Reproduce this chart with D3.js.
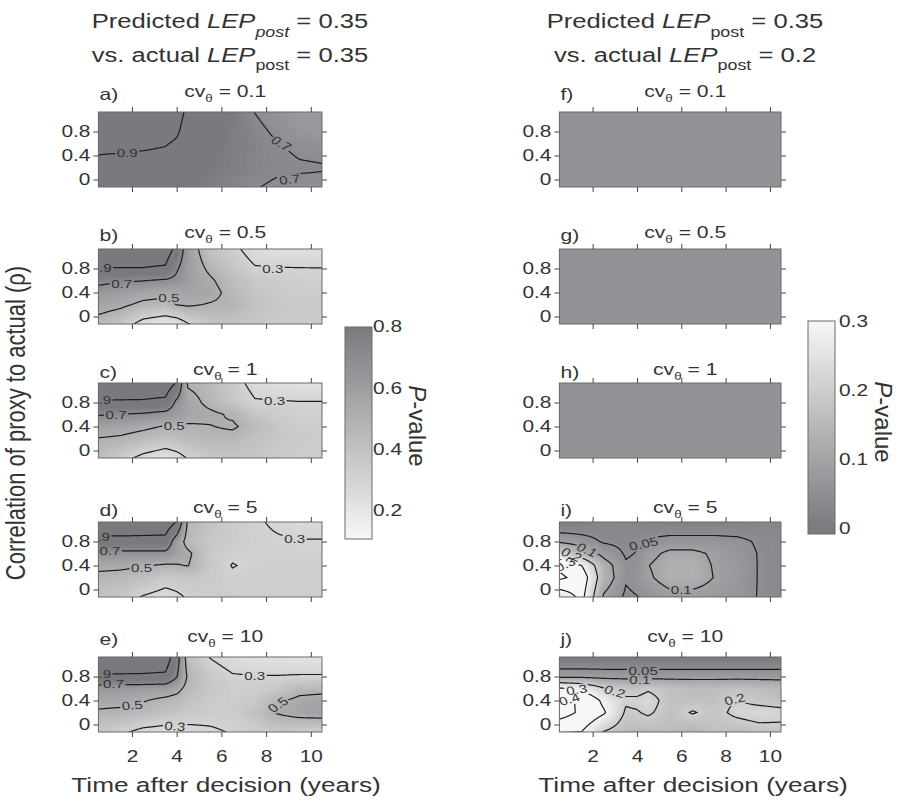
<!DOCTYPE html>
<html>
<head>
<meta charset="utf-8">
<script src="https://cdn.jsdelivr.net/npm/d3@7"></script>
<style>
  body { margin: 0; background: #fff; }
  svg text { font-family: "Liberation Sans", Arial, Helvetica, sans-serif; fill: #333; }
</style>
</head>
<body>
<svg width="901" height="803"></svg>
<script>
var years = [0.5, 1.5, 2.5, 3.5, 4, 4.5, 5.5, 6.5, 7.5, 8.5, 9.5, 10.5];
var rho = [1.0, 0.8, 0.6, 0.4, 0.2, 0];

var gridA = [
  [0.95, 0.95, 0.95, 0.94, 0.92, 0.88, 0.84, 0.79, 0.71, 0.66, 0.63, 0.62],
  [0.94, 0.94, 0.94, 0.93, 0.91, 0.87, 0.83, 0.78, 0.73, 0.68, 0.64, 0.62],
  [0.92, 0.92, 0.915, 0.905, 0.89, 0.86, 0.82, 0.78, 0.745, 0.705, 0.68, 0.66],
  [0.899, 0.895, 0.89, 0.885, 0.87, 0.85, 0.81, 0.77, 0.74, 0.715, 0.695, 0.69],
  [0.87, 0.87, 0.87, 0.86, 0.85, 0.83, 0.8, 0.77, 0.74, 0.72, 0.71, 0.705],
  [0.85, 0.85, 0.85, 0.84, 0.83, 0.81, 0.78, 0.75, 0.72, 0.695, 0.69, 0.69]
];
var gridB = [
  [0.97, 0.97, 0.96, 0.95, 0.8, 0.6, 0.42, 0.35, 0.27, 0.26, 0.26, 0.26],
  [0.895, 0.895, 0.895, 0.88, 0.72, 0.6, 0.47, 0.38, 0.31, 0.305, 0.303, 0.302],
  [0.74, 0.72, 0.705, 0.68, 0.66, 0.6, 0.52, 0.42, 0.36, 0.34, 0.33, 0.32],
  [0.64, 0.6, 0.56, 0.54, 0.55, 0.56, 0.55, 0.45, 0.38, 0.35, 0.34, 0.34],
  [0.56, 0.53, 0.47, 0.45, 0.505, 0.52, 0.49, 0.47, 0.4, 0.37, 0.36, 0.36],
  [0.49, 0.44, 0.33, 0.29, 0.32, 0.38, 0.42, 0.42, 0.38, 0.36, 0.35, 0.35]
];
var gridC = [
  [0.97, 0.97, 0.96, 0.95, 0.8, 0.51, 0.45, 0.36, 0.28, 0.26, 0.25, 0.25],
  [0.88, 0.88, 0.88, 0.86, 0.66, 0.56, 0.46, 0.38, 0.31, 0.31, 0.305, 0.305],
  [0.71, 0.695, 0.68, 0.64, 0.6, 0.56, 0.53, 0.48, 0.38, 0.34, 0.32, 0.32],
  [0.58, 0.56, 0.53, 0.49, 0.49, 0.48, 0.495, 0.52, 0.44, 0.37, 0.34, 0.33],
  [0.495, 0.48, 0.44, 0.4, 0.42, 0.44, 0.46, 0.45, 0.4, 0.37, 0.35, 0.34],
  [0.45, 0.4, 0.33, 0.28, 0.31, 0.36, 0.4, 0.41, 0.38, 0.36, 0.34, 0.34]
];
var gridD = [
  [0.97, 0.97, 0.96, 0.95, 0.78, 0.46, 0.38, 0.34, 0.315, 0.295, 0.28, 0.28],
  [0.84, 0.84, 0.84, 0.84, 0.6, 0.44, 0.37, 0.34, 0.32, 0.31, 0.305, 0.305],
  [0.66, 0.66, 0.66, 0.66, 0.58, 0.53, 0.36, 0.32, 0.32, 0.32, 0.315, 0.315],
  [0.54, 0.53, 0.51, 0.48, 0.49, 0.505, 0.36, 0.295, 0.32, 0.33, 0.33, 0.33],
  [0.46, 0.45, 0.42, 0.36, 0.37, 0.38, 0.35, 0.32, 0.33, 0.33, 0.33, 0.33],
  [0.42, 0.4, 0.34, 0.29, 0.31, 0.34, 0.34, 0.33, 0.33, 0.33, 0.33, 0.33]
];
var gridE = [
  [0.97, 0.97, 0.96, 0.95, 0.76, 0.44, 0.32, 0.27, 0.25, 0.25, 0.25, 0.25],
  [0.88, 0.88, 0.88, 0.87, 0.71, 0.48, 0.36, 0.31, 0.305, 0.305, 0.31, 0.31],
  [0.62, 0.62, 0.61, 0.6, 0.55, 0.45, 0.37, 0.33, 0.33, 0.36, 0.44, 0.45],
  [0.55, 0.54, 0.51, 0.46, 0.44, 0.4, 0.35, 0.33, 0.36, 0.47, 0.54, 0.56],
  [0.48, 0.47, 0.44, 0.4, 0.38, 0.36, 0.34, 0.34, 0.4, 0.51, 0.56, 0.57],
  [0.41, 0.38, 0.33, 0.305, 0.3, 0.3, 0.305, 0.32, 0.36, 0.42, 0.42, 0.42]
];
// f), g) and h) look the same flat grey
var gridFGH = [
  [0.057, 0.057, 0.057, 0.057, 0.057, 0.057, 0.057, 0.057, 0.057, 0.057, 0.057, 0.057],
  [0.057, 0.057, 0.057, 0.057, 0.057, 0.057, 0.057, 0.057, 0.057, 0.057, 0.057, 0.057],
  [0.057, 0.057, 0.057, 0.057, 0.057, 0.057, 0.057, 0.057, 0.057, 0.057, 0.057, 0.057],
  [0.057, 0.057, 0.057, 0.057, 0.057, 0.057, 0.057, 0.057, 0.057, 0.057, 0.057, 0.057],
  [0.057, 0.057, 0.057, 0.057, 0.057, 0.057, 0.057, 0.057, 0.057, 0.057, 0.057, 0.057],
  [0.057, 0.057, 0.057, 0.057, 0.057, 0.057, 0.057, 0.057, 0.057, 0.057, 0.057, 0.057]
];
var gridI = [
  [0.035, 0.035, 0.035, 0.035, 0.035, 0.035, 0.035, 0.035, 0.035, 0.035, 0.035, 0.035],
  [0.09, 0.07, 0.045, 0.04, 0.045, 0.055, 0.065, 0.065, 0.065, 0.06, 0.045, 0.04],
  [0.22, 0.14, 0.08, 0.045, 0.052, 0.08, 0.115, 0.115, 0.09, 0.07, 0.048, 0.04],
  [0.38, 0.3, 0.13, 0.055, 0.06, 0.098, 0.13, 0.13, 0.095, 0.075, 0.048, 0.04],
  [0.42, 0.36, 0.14, 0.055, 0.065, 0.09, 0.13, 0.13, 0.098, 0.075, 0.048, 0.04],
  [0.3, 0.34, 0.11, 0.047, 0.055, 0.07, 0.1, 0.1, 0.085, 0.07, 0.048, 0.04]
];
var gridJ = [
  [0.03, 0.03, 0.03, 0.03, 0.03, 0.03, 0.03, 0.03, 0.03, 0.03, 0.03, 0.03],
  [0.085, 0.085, 0.08, 0.08, 0.08, 0.08, 0.08, 0.08, 0.08, 0.08, 0.08, 0.08],
  [0.31, 0.28, 0.205, 0.18, 0.17, 0.19, 0.17, 0.16, 0.16, 0.17, 0.16, 0.15],
  [0.42, 0.39, 0.28, 0.21, 0.215, 0.23, 0.17, 0.17, 0.17, 0.205, 0.18, 0.17],
  [0.45, 0.38, 0.31, 0.19, 0.195, 0.21, 0.17, 0.205, 0.18, 0.215, 0.23, 0.22],
  [0.36, 0.33, 0.24, 0.17, 0.17, 0.175, 0.165, 0.165, 0.175, 0.18, 0.195, 0.195]
];

var levelsLeft = [0.1, 0.3, 0.5, 0.7, 0.9];
var levelsRight = [0.05, 0.1, 0.2, 0.3, 0.4];

// contour labels: [level, year, rho, angle]
var labelsA = [[0.9, 1.79, 0.45, 0], [0.7, 8.68, 0.6, 38], [0.7, 9.05, 0.0, -8]];
var labelsB = [[0.9, 0.62, 0.81, 0], [0.7, 1.54, 0.55, 0], [0.5, 3.65, 0.31, 0], [0.3, 8.3, 0.8, 0]];
var labelsC = [[0.9, 0.6, 0.84, 0], [0.7, 1.29, 0.6, 0], [0.5, 3.89, 0.41, 0], [0.3, 8.38, 0.83, 0]];
var labelsD = [[0.9, 0.55, 0.88, 0], [0.7, 1.02, 0.65, 0], [0.5, 2.43, 0.36, 0], [0.3, 9.28, 0.85, 0]];
var labelsE = [[0.9, 0.6, 0.84, 0], [0.7, 1.17, 0.67, 0], [0.5, 2.01, 0.32, -5], [0.3, 7.49, 0.81, 0],
               [0.5, 8.53, 0.33, -40], [0.3, 3.92, -0.03, 5]];
var labelsI = [[0.05, 4.3, 0.76, -15], [0.1, 6.0, 0.0, 0], [0.1, 1.75, 0.66, 30], [0.2, 1.05, 0.58, 30],
               [0.3, 0.75, 0.42, -30]];
var labelsJ = [[0.05, 4.28, 0.9, 0], [0.1, 4.13, 0.75, 0], [0.3, 1.28, 0.58, -10], [0.4, 0.95, 0.42, -20],
               [0.2, 3.0, 0.55, 20], [0.2, 8.41, 0.42, -15]];

var cvValues = ["0.1", "0.5", "1", "5", "10"];
var lettersLeft = ["a)", "b)", "c)", "d)", "e)"];
var lettersRight = ["f)", "g)", "h)", "i)", "j)"];
var predicted = [0.35, 0.35];
var actual = [0.35, 0.2];
var xTicks = [2, 4, 6, 8, 10];
var yTicks = [0, 0.4, 0.8];
var barTicksLeft = [0.2, 0.4, 0.6, 0.8];
var barTicksRight = [0, 0.1, 0.2, 0.3];

// the figure is drawn horizontally stretched, text included
var S = 1.28;

// fine sampling used for shading and contours
var tMin = 0.3, tStep = 0.05, nx = 209;
var rMax = 1.2, rStep = 0.01, ny = 141;

function bracket(arr, v) {
    if (v <= arr[0]) return [0, 0, 0];
    if (v >= arr[arr.length - 1]) return [arr.length - 1, arr.length - 1, 0];
    var k = 0;
    while (arr[k + 1] < v) k++;
    return [k, k + 1, (v - arr[k]) / (arr[k + 1] - arr[k])];
}

// like bracket, but carries the edge slope a little past the first/last row
function bracketExt(arr, v) {
    var n = arr.length;
    if (v < arr[0]) return [0, 1, (v - arr[0]) / (arr[1] - arr[0])];
    if (v > arr[n - 1]) return [n - 2, n - 1, (v - arr[n - 2]) / (arr[n - 1] - arr[n - 2])];
    return bracket(arr, v);
}

function sample(grid) {
    var rhoAsc = rho.slice().reverse(), rows = grid.slice().reverse();
    var out = new Array(nx * ny);
    for (var j = 0; j < ny; j++) {
        var br = bracketExt(rhoAsc, rMax - j * rStep);
        for (var i = 0; i < nx; i++) {
            var bt = bracket(years, tMin + i * tStep);
            var v0 = rows[br[0]][bt[0]] * (1 - bt[2]) + rows[br[0]][bt[1]] * bt[2];
            var v1 = rows[br[1]][bt[0]] * (1 - bt[2]) + rows[br[1]][bt[1]] * bt[2];
            out[j * nx + i] = Math.max(0, Math.min(1, v0 * (1 - br[2]) + v1 * br[2]));
        }
    }
    return out;
}

function gridPath(x, y) {
    return d3.geoPath(d3.geoTransform({
        point: function(px, py) {
            this.stream.point(x(tMin + (px - 0.5) * tStep), y(rMax - (py - 0.5) * rStep));
        }
    }));
}

// move x/y into a transform and widen the glyphs
function widen(sel) {
    sel.each(function() {
        var t = d3.select(this);
        var x = +t.attr("x") || 0, y = +t.attr("y") || 0;
        t.attr("x", null).attr("y", null)
            .attr("transform", "translate(" + x + "," + y + ") scale(" + S + ",1)");
    });
}

function styleAxis(sel) {
    sel.select(".domain").remove();
    sel.selectAll(".tick line").attr("stroke", "#444");
    sel.selectAll("text").style("font-size", "16.3px").call(widen);
}

function main() {
    var svg = d3.select("svg");
    var tops = [112, 249, 383, 522, 657], panelH = 75;
    var titleBase = [97, 238, 375, 513, 642];

    var colorLeft = d3.scaleLinear().domain([0.1, 0.8]).range(["#f7f7f7", "#797a7e"]).clamp(true);
    var colorRight = d3.scaleLinear().domain([0, 0.3]).range(["#797a7e", "#f7f7f7"]).clamp(true);

    var cols = [
        {x0: 98.4, x1: 322, grids: [gridA, gridB, gridC, gridD, gridE], letters: lettersLeft,
         labels: [labelsA, labelsB, labelsC, labelsD, labelsE], levels: levelsLeft, color: colorLeft,
         lo: 0.1, hi: 0.8, step: 0.01, titleX: 230, xTitleX: 226},
        {x0: 559.4, x1: 781, grids: [gridFGH, gridFGH, gridFGH, gridI, gridJ], letters: lettersRight,
         labels: [[], [], [], labelsI, labelsJ], levels: levelsRight, color: colorRight,
         lo: 0, hi: 0.3, step: 0.005, titleX: 685, xTitleX: 693}
    ];

    cols.forEach(function(c, ci) {
        var x = d3.scaleLinear().domain([0.5, 10.5]).range([c.x0, c.x1]);
        var cx = (c.x0 + c.x1) / 2;
        // shading levels offset so flat areas never sit on a level
        var fillLevels = d3.range(0, Math.round((c.hi - c.lo) / c.step)).map(function(k) {
            return c.lo + (k + 0.37) * c.step;
        });

        // column title
        var t1 = svg.append("text").attr("x", c.titleX).attr("y", 28)
            .attr("text-anchor", "middle").style("font-size", "20px");
        t1.append("tspan").text("Predicted ");
        t1.append("tspan").style("font-style", "italic").text("LEP");
        t1.append("tspan").attr("dy", 9).style("font-size", "14px")
            .style("font-style", ci === 0 ? "italic" : "normal").text("post");
        t1.append("tspan").attr("dy", -9).text(" = " + predicted[ci]);
        var t2 = svg.append("text").attr("x", c.titleX).attr("y", 62)
            .attr("text-anchor", "middle").style("font-size", "20px");
        t2.append("tspan").text("vs. actual ");
        t2.append("tspan").style("font-style", "italic").text("LEP");
        t2.append("tspan").attr("dy", 8).style("font-size", "14px").text("post");
        t2.append("tspan").attr("dy", -8).text(" = " + actual[ci]);
        t1.call(widen);
        t2.call(widen);

        c.grids.forEach(function(grid, ri) {
            var top = tops[ri], id = "p" + ci + ri;
            var y = d3.scaleLinear().domain([-0.125, 1.125]).range([top + panelH, top]);
            var g = svg.append("g");
            var values = sample(grid);
            var path = gridPath(x, y);

            g.append("clipPath").attr("id", "clip-" + id).append("rect")
                .attr("x", c.x0).attr("y", top).attr("width", c.x1 - c.x0).attr("height", panelH);
            var mask = g.append("mask").attr("id", "mask-" + id).attr("maskUnits", "userSpaceOnUse")
                .attr("x", c.x0 - 20).attr("y", top - 20).attr("width", c.x1 - c.x0 + 40).attr("height", panelH + 40);
            mask.append("rect").attr("x", c.x0 - 20).attr("y", top - 20)
                .attr("width", c.x1 - c.x0 + 40).attr("height", panelH + 40).attr("fill", "white");

            var inner = g.append("g").attr("clip-path", "url(#clip-" + id + ")");
            inner.append("rect").attr("x", c.x0).attr("y", top)
                .attr("width", c.x1 - c.x0).attr("height", panelH).attr("fill", c.color(c.lo));
            inner.append("g").selectAll("path")
                .data(d3.contours().size([nx, ny]).thresholds(fillLevels)(values))
                .join("path")
                .attr("d", path)
                .attr("fill", function(d) { return c.color(d.value + c.step / 2); });

            inner.append("g").attr("mask", "url(#mask-" + id + ")").selectAll("path")
                .data(d3.contours().size([nx, ny]).thresholds(c.levels)(values))
                .join("path")
                .attr("d", path)
                .attr("fill", "none")
                .attr("stroke", "#1c1c1c")
                .attr("stroke-width", 1.2);

            var labG = inner.append("g");
            c.labels[ri].forEach(function(l) {
                var tr = "translate(" + x(l[1]) + "," + y(l[2]) + ") scale(" + S + ",1) rotate(" + l[3] + ")";
                var tx = labG.append("text").attr("transform", tr)
                    .attr("text-anchor", "middle").attr("dy", "0.35em")
                    .style("font-size", "11.8px").text(String(l[0]));
                var bb = tx.node().getBBox();
                mask.append("rect").attr("transform", tr)
                    .attr("x", bb.x - 1.2).attr("y", bb.y + 1)
                    .attr("width", bb.width + 2.4).attr("height", bb.height - 2)
                    .attr("fill", "black");
            });

            g.append("rect").attr("x", c.x0).attr("y", top)
                .attr("width", c.x1 - c.x0).attr("height", panelH)
                .attr("fill", "none").attr("stroke", "#6a6a6a").attr("stroke-width", 1);

            g.append("g").attr("transform", "translate(0," + (top + panelH) + ")")
                .call(d3.axisBottom(x).tickValues(xTicks).tickSize(5).tickPadding(13)
                    .tickFormat(ri === 4 ? d3.format("d") : ""))
                .call(styleAxis);
            g.append("g").attr("transform", "translate(0," + top + ")")
                .call(d3.axisTop(x).tickValues(xTicks).tickSize(5).tickFormat(""))
                .call(styleAxis);
            g.append("g").attr("transform", "translate(" + c.x0 + ",0)")
                .call(d3.axisLeft(y).tickValues(yTicks).tickSize(5).tickPadding(3)
                    .tickFormat(function(d) { return String(d); }))
                .call(styleAxis);
            g.append("g").attr("transform", "translate(" + c.x1 + ",0)")
                .call(d3.axisRight(y).tickValues(yTicks).tickSize(5).tickFormat(""))
                .call(styleAxis);

            // panel title
            g.append("text").attr("x", c.x0 + 1).attr("y", titleBase[ri] + 3)
                .style("font-size", "16.5px").text(c.letters[ri]).call(widen);
            var tt = g.append("text").attr("x", cx + 15).attr("y", titleBase[ri])
                .attr("text-anchor", "middle").style("font-size", "16.5px");
            tt.append("tspan").text("cv");
            tt.append("tspan").attr("dy", 5).style("font-size", "10.5px").text("\u03b8");
            tt.append("tspan").attr("dy", -5).text(" = " + cvValues[ri]);
            tt.call(widen);
        });

        svg.append("text").attr("x", c.xTitleX).attr("y", 792).attr("text-anchor", "middle")
            .style("font-size", "20.5px").text("Time after decision (years)").call(widen);
    });

    svg.append("text").attr("transform", "translate(25,423) rotate(-90) scale(1," + S + ")")
        .attr("text-anchor", "middle").style("font-size", "22px")
        .text("Correlation of proxy to actual (\u03c1)");

    // colour bars
    var bars = [
        {x0: 345, yTop: 327, yBot: 539, scale: d3.scaleLinear().domain([0.2, 0.8]).range([510, 326.7]),
         color: colorLeft, ticks: barTicksLeft, tickX: 373, labelX: 409, labelY: 426},
        {x0: 808, yTop: 321, yBot: 534, scale: d3.scaleLinear().domain([0, 0.3]).range([528.5, 321]),
         color: colorRight, ticks: barTicksRight, tickX: 839, labelX: 875, labelY: 422}
    ];
    var defs = svg.append("defs");
    bars.forEach(function(b, bi) {
        var grad = defs.append("linearGradient").attr("id", "bar" + bi)
            .attr("x1", 0).attr("y1", 1).attr("x2", 0).attr("y2", 0);
        d3.range(0, 21).forEach(function(k) {
            var v = b.scale.invert(b.yBot - k / 20 * (b.yBot - b.yTop));
            grad.append("stop").attr("offset", k / 20).attr("stop-color", b.color(v));
        });
        svg.append("rect").attr("x", b.x0).attr("y", b.yTop)
            .attr("width", 27).attr("height", b.yBot - b.yTop)
            .attr("fill", "url(#bar" + bi + ")").attr("stroke", "#6a6a6a");
        svg.append("g").selectAll("text").data(b.ticks).join("text")
            .attr("x", b.tickX).attr("y", function(d) { return b.scale(d); })
            .attr("dy", "0.35em").style("font-size", "16.3px")
            .text(function(d) { return String(d); })
            .call(widen);
        var pl = svg.append("text")
            .attr("transform", "translate(" + b.labelX + "," + b.labelY + ") rotate(90)")
            .attr("text-anchor", "middle").style("font-size", "24px");
        pl.append("tspan").style("font-style", "italic").text("P");
        pl.append("tspan").text("-value");
    });
}

main();
</script>
</body>
</html>
